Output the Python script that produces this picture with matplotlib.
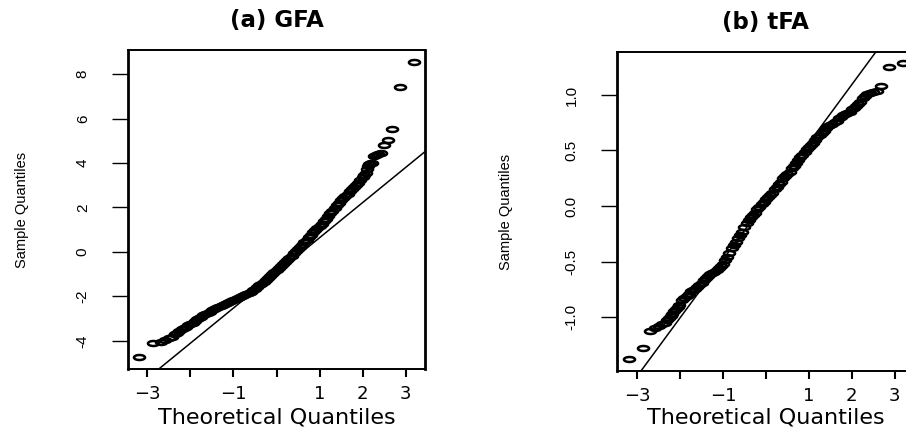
import matplotlib
matplotlib.use("Agg")
import matplotlib.pyplot as plt
from matplotlib.path import Path

# ---- (a) GFA: theoretical vs sample quantiles ----
gfa_theo = [
    -3.19, -2.86, -2.69, -2.58, -2.49, -2.42, -2.36, -2.31, -2.26,
    -2.20, -2.15, -2.10, -2.05, -2.00, -1.95, -1.90, -1.85, -1.80, -1.75,
    -1.70, -1.65, -1.60, -1.55, -1.50, -1.45, -1.40, -1.35, -1.30, -1.25,
    -1.20, -1.15, -1.10, -1.05, -1.00, -0.95, -0.90, -0.85, -0.80, -0.75,
    -0.70, -0.65, -0.60, -0.55, -0.50, -0.45, -0.40, -0.35, -0.30, -0.25,
    -0.20, -0.15, -0.10, -0.05, 0.00, 0.05, 0.10, 0.15, 0.20, 0.25,
    0.30, 0.35, 0.40, 0.45, 0.50, 0.55, 0.60, 0.65, 0.70, 0.75,
    0.80, 0.85, 0.90, 0.95, 1.00, 1.05, 1.10, 1.15, 1.20, 1.25,
    1.30, 1.35, 1.40, 1.45, 1.50, 1.55, 1.60, 1.65, 1.70, 1.75,
    1.80, 1.85, 1.90, 1.95, 2.00,
    2.04, 2.07, 2.10, 2.13, 2.16, 2.19, 2.22, 2.26, 2.31, 2.36, 2.42,
    2.49, 2.58, 2.69, 2.86, 3.19,
]
gfa_sample = [
    -4.73, -4.07, -4.03, -3.97, -3.88, -3.80, -3.70, -3.63, -3.56,
    -3.48, -3.42, -3.36, -3.30, -3.24, -3.17, -3.10, -3.03, -2.97, -2.91,
    -2.85, -2.80, -2.74, -2.69, -2.63, -2.58, -2.52, -2.47, -2.42, -2.37,
    -2.32, -2.28, -2.24, -2.19, -2.15, -2.11, -2.07, -2.03, -1.99, -1.94,
    -1.89, -1.84, -1.79, -1.73, -1.66, -1.58, -1.50, -1.42, -1.34, -1.26,
    -1.17, -1.09, -1.00, -0.91, -0.82, -0.73, -0.63, -0.53, -0.43, -0.34,
    -0.25, -0.16, -0.06, 0.03, 0.13, 0.23, 0.33, 0.44, 0.55, 0.66,
    0.78, 0.89, 0.99, 1.08, 1.17, 1.28, 1.39, 1.50, 1.62, 1.74,
    1.86, 1.98, 2.10, 2.21, 2.32, 2.42, 2.52, 2.62, 2.72, 2.81,
    2.90, 3.00, 3.10, 3.22, 3.35,
    3.45, 3.55, 3.75, 3.88, 3.95, 3.98, 4.02, 4.33, 4.38, 4.42, 4.47,
    4.80, 5.05, 5.51, 7.43, 8.52,
]
gfa_line = (-0.94, 1.58)  # intercept, slope

# ---- (b) tFA ----
tfa_theo = [
    -3.19, -2.86, -2.69, -2.58, -2.49, -2.42, -2.36, -2.31, -2.26, -2.22,
    -2.18, -2.14, -2.10, -2.06, -2.02,
    -1.95, -1.90, -1.85, -1.80, -1.75, -1.70, -1.65, -1.60, -1.55, -1.50,
    -1.45, -1.40, -1.35, -1.30, -1.25, -1.20, -1.15, -1.10, -1.05, -1.00,
    -0.95, -0.90, -0.85, -0.80, -0.75, -0.70, -0.65, -0.60, -0.55, -0.50,
    -0.45, -0.40, -0.35, -0.30, -0.25, -0.20, -0.15, -0.10, -0.05, 0.00,
    0.05, 0.10, 0.15, 0.20, 0.25, 0.30, 0.35, 0.40, 0.45, 0.50,
    0.55, 0.60, 0.65, 0.70, 0.75, 0.80, 0.85, 0.90, 0.95, 1.00,
    1.05, 1.10, 1.15, 1.20, 1.25, 1.30, 1.35, 1.40, 1.45, 1.50,
    1.55, 1.60, 1.65, 1.70, 1.75, 1.80, 1.85, 1.90, 1.95, 2.00,
    2.05, 2.10, 2.15, 2.20,
    2.26, 2.31, 2.36, 2.42, 2.49, 2.58, 2.69, 2.86, 3.19,
]
tfa_sample = [
    -1.38, -1.28, -1.13, -1.10, -1.08, -1.06, -1.05, -1.03, -1.01, -0.99,
    -0.97, -0.95, -0.93, -0.91, -0.89,
    -0.85, -0.83, -0.81, -0.79, -0.77, -0.76, -0.75, -0.73, -0.71, -0.69,
    -0.67, -0.65, -0.63, -0.61, -0.60, -0.59, -0.58, -0.56, -0.54, -0.52,
    -0.49, -0.46, -0.42, -0.38, -0.35, -0.32, -0.29, -0.26, -0.23, -0.19,
    -0.15, -0.13, -0.10, -0.08, -0.06, -0.03, -0.01, 0.02, 0.04, 0.06,
    0.08, 0.10, 0.12, 0.15, 0.17, 0.20, 0.22, 0.25, 0.27, 0.29,
    0.31, 0.34, 0.36, 0.39, 0.41, 0.44, 0.46, 0.49, 0.51, 0.53,
    0.55, 0.57, 0.59, 0.62, 0.64, 0.66, 0.68, 0.70, 0.72, 0.73,
    0.74, 0.76, 0.77, 0.79, 0.80, 0.82, 0.83, 0.84, 0.85, 0.87,
    0.88, 0.90, 0.92, 0.94,
    0.97, 0.99, 1.01, 1.02, 1.03, 1.04, 1.08, 1.25, 1.29,
]
tfa_line = (0.043, 0.525)

x_ticks = [-3, -2, -1, 0, 1, 2, 3]
x_ticklabels = ["\u22123", "", "\u22121", "", "1", "2", "3"]
gfa_yticks = [-4, -2, 0, 2, 4, 6, 8]
gfa_yticklabels = ["-4", "-2", "0", "2", "4", "6", "8"]
tfa_yticks = [-1.0, -0.5, 0.0, 0.5, 1.0]
tfa_yticklabels = ["-1.0", "-0.5", "0.0", "0.5", "1.0"]

wide = "DejaVu Sans"
narrow = "Liberation Sans"

# flattened open circle
circ = Path.unit_circle()
ring = Path(circ.vertices * [1.0, 0.45], circ.codes)

W, H = 906, 429
fig = plt.figure(figsize=(W / 100, H / 100), dpi=100)


def qq_panel(box, title, theo, sample, line, xlim, ylim, yticks, yticklabels,
             ylab_off):
    l, t, r, b = box
    ax = fig.add_axes([l / W, 1 - b / H, (r - l) / W, (b - t) / H])
    ax.plot(theo, sample, linestyle="none", marker=ring, markersize=8,
            mfc="none", mec="black", mew=1.8)
    ax.axline((0, line[0]), slope=line[1], color="black", lw=1.1)
    ax.set_xlim(*xlim)
    ax.set_ylim(*ylim)

    ax.set_xticks(x_ticks, x_ticklabels, fontfamily=wide, fontsize=13)
    ax.set_yticks(yticks, yticklabels, fontfamily=narrow, fontsize=11,
                  rotation=90, va="center")
    ax.tick_params(axis="x", length=5.8, width=1.5, pad=6)
    ax.tick_params(axis="y", length=11.5, width=1.0, pad=16)
    for side, sp in ax.spines.items():
        sp.set_linewidth(2.0 if side in ("left", "right") else 1.4)

    ax.set_title(title, fontfamily=wide, fontweight="bold", fontsize=16.5,
                 y=1 + 29 / (b - t), pad=0, va="center")
    ax.set_xlabel("Theoretical Quantiles", fontfamily=wide, fontsize=16,
                  va="bottom")
    ax.xaxis.set_label_coords(0.5, -(428 - b) / (b - t))
    ax.set_ylabel("Sample Quantiles", fontfamily=narrow, fontsize=10.5,
                  va="center")
    ax.yaxis.set_label_coords(-ylab_off / (r - l), 0.5)
    return ax


qq_panel((128, 50, 425, 369), "(a) GFA", gfa_theo, gfa_sample, gfa_line,
         (-3.45, 3.45), (-5.26, 9.08), gfa_yticks, gfa_yticklabels, 106)
qq_panel((617, 52, 914, 371), "(b) tFA", tfa_theo, tfa_sample, tfa_line,
         (-3.47, 3.45), (-1.486, 1.387), tfa_yticks, tfa_yticklabels, 111)

fig.savefig("out.png", dpi=100)
